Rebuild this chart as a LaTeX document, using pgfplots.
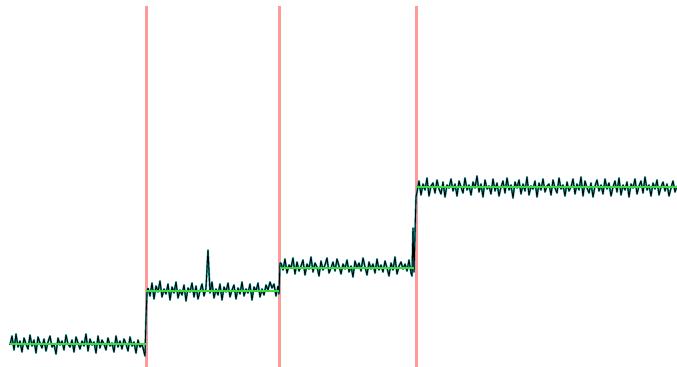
\documentclass[border=0pt]{standalone}
\usepackage{pgfplots}
\usepackage{pgfplotstable}
\pgfplotsset{compat=1.18}
\definecolor{redline}{HTML}{FF9A9A}
\definecolor{greenline}{HTML}{3CDC3C}
\definecolor{tealline}{HTML}{1A9A9A}
\pgfplotstableread[row sep=\\]{
y\\
345\\ 336\\ 350\\ 334\\ 347\\ 341\\ 352\\ 338\\ 344\\ 349\\
335\\ 346\\ 340\\ 353\\ 337\\ 343\\ 348\\ 339\\ 351\\ 342\\
336\\ 347\\ 344\\ 354\\ 338\\ 345\\ 341\\ 350\\ 335\\ 344\\
347\\ 340\\ 352\\ 337\\ 343\\ 349\\ 341\\ 346\\ 334\\ 351\\
339\\ 345\\ 342\\ 353\\ 336\\ 348\\ 340\\ 344\\ 350\\ 338\\
346\\ 343\\ 352\\ 336\\ 347\\ 341\\ 349\\ 339\\ 344\\ 351\\
337\\ 346\\ 342\\ 353\\ 340\\ 347\\ 344\\ 352\\
}\segA
\pgfplotstableread[row sep=\\]{
y\\
288\\ 296\\ 283\\ 299\\ 286\\ 292\\ 281\\ 297\\ 289\\ 294\\
284\\ 300\\ 287\\ 293\\ 282\\ 298\\ 290\\ 295\\ 285\\ 301\\
288\\ 292\\ 283\\ 297\\ 286\\ 299\\ 291\\ 284\\ 296\\ 288\\
250\\ 293\\ 282\\ 298\\ 289\\ 295\\ 284\\ 300\\ 287\\ 292\\
283\\ 297\\ 290\\ 285\\ 299\\ 288\\ 294\\ 282\\ 296\\ 289\\
293\\ 284\\ 300\\ 287\\ 291\\ 283\\ 297\\ 289\\ 295\\ 285\\
290\\ 282\\ 288\\ 284\\ 296\\ 286\\
}\segB
\pgfplotstableread[row sep=\\]{
y\\
263\\ 270\\ 259\\ 273\\ 265\\ 268\\ 258\\ 274\\ 262\\ 271\\
266\\ 260\\ 275\\ 264\\ 269\\ 257\\ 272\\ 263\\ 267\\ 276\\
261\\ 270\\ 265\\ 258\\ 273\\ 268\\ 262\\ 271\\ 259\\ 266\\
274\\ 264\\ 269\\ 260\\ 272\\ 266\\ 277\\ 261\\ 268\\ 263\\
271\\ 258\\ 267\\ 275\\ 262\\ 269\\ 264\\ 273\\ 259\\ 270\\
265\\ 272\\ 261\\ 268\\ 276\\ 263\\ 270\\ 257\\ 274\\ 266\\
262\\ 269\\ 264\\ 271\\ 260\\ 273\\
}\segC
\pgfplotstableread[row sep=\\]{
y\\
192\\ 181\\ 195\\ 184\\ 190\\ 178\\ 196\\ 186\\ 183\\ 193\\
180\\ 189\\ 194\\ 182\\ 197\\ 185\\ 188\\ 179\\ 191\\ 184\\
196\\ 181\\ 187\\ 193\\ 178\\ 190\\ 185\\ 195\\ 182\\ 188\\
176\\ 192\\ 184\\ 197\\ 180\\ 189\\ 186\\ 194\\ 179\\ 191\\
183\\ 196\\ 187\\ 181\\ 193\\ 178\\ 190\\ 185\\ 198\\ 182\\
188\\ 180\\ 194\\ 184\\ 191\\ 177\\ 195\\ 186\\ 189\\ 181\\
197\\ 183\\ 190\\ 179\\ 192\\ 186\\ 184\\ 195\\ 180\\ 188\\
193\\ 178\\ 189\\ 185\\ 196\\ 182\\ 191\\ 187\\ 179\\ 194\\
184\\ 190\\ 177\\ 196\\ 181\\ 188\\ 193\\ 183\\ 197\\ 186\\
180\\ 191\\ 185\\ 194\\ 179\\ 189\\ 183\\ 196\\ 187\\ 181\\
192\\ 178\\ 195\\ 185\\ 190\\ 182\\ 197\\ 184\\ 188\\ 179\\
194\\ 186\\ 181\\ 193\\ 177\\ 190\\ 185\\ 196\\ 183\\ 189\\
180\\ 195\\ 187\\ 182\\ 191\\ 184\\ 196\\ 188\\ 181\\ 192\\
186\\
}\segD
\begin{document}
\begin{tikzpicture}
\begin{axis}[
  scale only axis, width=677bp, height=367bp,
  xmin=0, xmax=677, ymin=0, ymax=367, y dir=reverse,
  hide axis, clip=true,
  sig/.style={tealline, line width=1.9bp, line join=round},
  sigb/.style={black, line width=0.85bp, line join=round},
]
% red boundaries
\addplot[redline, line width=3bp] coordinates {(146,6) (146,367)};
\addplot[redline, line width=3bp] coordinates {(279,6) (279,367)};
\addplot[redline, line width=3bp] coordinates {(416,6) (416,367)};
% signal (teal halo)
\addplot[sig] table[x expr=\coordindex*2+10, y=y] {\segA};
\addplot[sig] coordinates {(144,352) (145,356) (146,318) (147,292) (148,288)};
\addplot[sig] table[x expr=\coordindex*2+148, y=y] {\segB};
\addplot[sig] coordinates {(278,286) (279,294) (280,263) (281,263)};
\addplot[sig] table[x expr=\coordindex*2+281, y=y] {\segC};
\addplot[sig] coordinates {(411,273) (412,276) (413,228) (414,272) (416,197) (417,192)};
\addplot[sig] table[x expr=\coordindex*2+417, y=y] {\segD};
% signal (black core)
\addplot[sigb] table[x expr=\coordindex*2+10, y=y] {\segA};
\addplot[sigb] coordinates {(144,352) (145,356) (146,318) (147,292) (148,288)};
\addplot[sigb] table[x expr=\coordindex*2+148, y=y] {\segB};
\addplot[sigb] coordinates {(278,286) (279,294) (280,263) (281,263)};
\addplot[sigb] table[x expr=\coordindex*2+281, y=y] {\segC};
\addplot[sigb] coordinates {(411,273) (412,276) (413,228) (414,272) (416,197) (417,192)};
\addplot[sigb] table[x expr=\coordindex*2+417, y=y] {\segD};
% means
\addplot[greenline, line width=1.6bp] coordinates {(10,344) (146,344)};
\addplot[greenline, line width=1.6bp] coordinates {(146,291) (279,291)};
\addplot[greenline, line width=1.6bp] coordinates {(280,268) (414,268)};
\addplot[greenline, line width=1.6bp] coordinates {(416,187) (677,187)};
\end{axis}
\pgfresetboundingbox
\path[use as bounding box] (current axis.south west) rectangle (current axis.north east);
\end{tikzpicture}
\end{document}
